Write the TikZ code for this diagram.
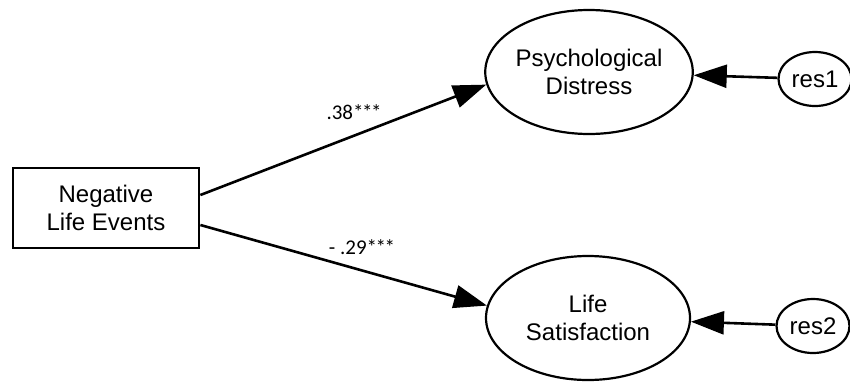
\documentclass[tikz,border=0pt]{standalone}
\usepackage{fontspec}
\setmainfont{Liberation Sans}
\newfontfamily\labfont{Carlito}
\usetikzlibrary{shapes.geometric,arrows.meta,calc}
\newcommand{\stars}{*\kern-1.5pt*\kern-1.5pt*}
\begin{document}
\begin{tikzpicture}[x=1pt,y=-1pt,
  every node/.style={font=\fontsize{24}{28}\selectfont, align=center, inner sep=0pt},
  obsbox/.style={draw, line width=2.8pt, minimum width=186pt, minimum height=80pt},
  latent/.style={ellipse, draw, line width=2.2pt, minimum width=204pt, minimum height=124pt},
  resid/.style={ellipse, draw, line width=2.2pt, minimum width=73pt, minimum height=54pt},
  path/.style={line width=2.6pt, -{Triangle[length=33pt,width=23pt]}},
  coef/.style={font=\labfont\fontsize{21}{24}\selectfont}]
\useasboundingbox (0,0) rectangle (850,381);
\node[obsbox] (nle) at (106,208) {Negative\\Life Events};
\node[latent] (pd) at (589,72) {Psychological\\Distress};
\node[latent] (ls) at (588,318) {Life\\Satisfaction};
\node[resid] (r1) at (815,79) {res1};
\node[resid] (r2) at (813,326) {res2};
\coordinate (s1) at ($(nle.east)+(0,-13)$);
\coordinate (s2) at ($(nle.east)+(0,17)$);
\draw[path] (s1) -- (pd.187);
\draw[path] (s2) -- (ls.173);
\draw[path] (r1) -- (pd);
\draw[path] (r2) -- (ls);
\node[coef] (c1) at (354,112) {.38\stars};
\node[coef] (c2) at (362,247) {- .29\stars};
\end{tikzpicture}
\end{document}
